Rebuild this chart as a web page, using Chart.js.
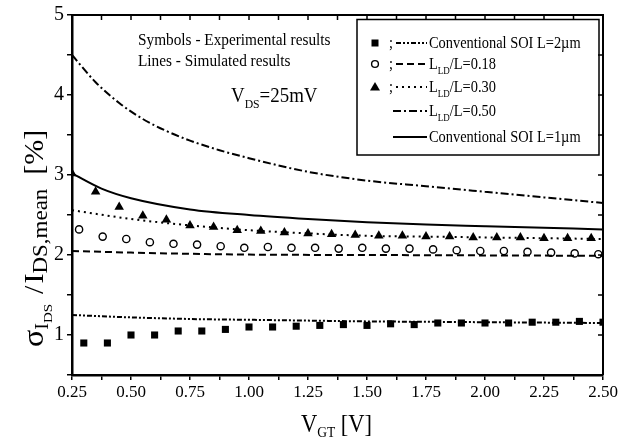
<!DOCTYPE html>
<html>
<head>
<meta charset="utf-8">
<script src="https://cdn.jsdelivr.net/npm/chart.js@4.4.0/dist/chart.umd.min.js"></script>
<style>
html, body { margin: 0; padding: 0; background: #fff; }
#wrap { width: 632px; height: 438px; }
</style>
</head>
<body>
<div id="wrap"><canvas id="chart" width="632" height="438"></canvas></div>
<script>
// experimental points (symbols)
var vgtSquares = [0.3,0.4,0.5,0.6,0.7,0.8,0.9,1.0,1.1,1.2,1.3,1.4,1.5,1.6,1.7,1.8,1.9,2.0,2.1,2.2,2.3,2.4,2.5];
var sigmaSquares = [0.90,0.90,1.00,1.00,1.05,1.05,1.07,1.10,1.10,1.11,1.12,1.13,1.12,1.14,1.13,1.15,1.15,1.15,1.15,1.16,1.16,1.17,1.16];
var vgtCircles = [0.28,0.38,0.48,0.58,0.68,0.78,0.88,0.98,1.08,1.18,1.28,1.38,1.48,1.58,1.68,1.78,1.88,1.98,2.08,2.18,2.28,2.38,2.48];
var sigmaCircles = [2.32,2.23,2.20,2.16,2.14,2.13,2.11,2.09,2.10,2.09,2.09,2.08,2.09,2.08,2.08,2.07,2.06,2.05,2.05,2.04,2.03,2.02,2.01];
var vgtTriangles = [0.25,0.35,0.45,0.55,0.65,0.75,0.85,0.95,1.05,1.15,1.25,1.35,1.45,1.55,1.65,1.75,1.85,1.95,2.05,2.15,2.25,2.35,2.45];
var sigmaTriangles = [3.02,2.79,2.60,2.49,2.44,2.37,2.35,2.31,2.30,2.28,2.27,2.26,2.25,2.24,2.24,2.23,2.23,2.22,2.22,2.22,2.21,2.21,2.21];

// simulated curves (lines)
var vgtConv2 = [0.25,0.5,0.75,1.0,1.25,1.5,1.75,2.0,2.25,2.5];
var sigmaConv2 = [1.25,1.22,1.20,1.19,1.18,1.17,1.165,1.16,1.155,1.15];
var vgtLd018 = [0.25,0.5,0.75,1.0,1.5,2.0,2.5];
var sigmaLd018 = [2.05,2.03,2.015,2.005,2.0,1.995,1.99];
var vgtLd030 = [0.25,0.5,0.75,1.0,1.25,1.5,1.75,2.0,2.25,2.5];
var sigmaLd030 = [2.56,2.45,2.37,2.31,2.27,2.24,2.23,2.22,2.21,2.20];
var vgtLd050 = [0.25,0.35,0.45,0.55,0.65,0.75,0.875,1.0,1.25,1.5,1.75,2.0,2.25,2.5];
var sigmaLd050 = [4.50,4.16,3.90,3.70,3.55,3.43,3.31,3.21,3.04,2.93,2.86,2.79,2.72,2.65];
var vgtConv1 = [0.25,0.375,0.5,0.75,1.0,1.25,1.5,1.75,2.0,2.25,2.5];
var sigmaConv1 = [3.02,2.83,2.71,2.57,2.50,2.45,2.41,2.38,2.36,2.34,2.32];

// ticks
var xTicks = [0.25,0.375,0.5,0.625,0.75,0.875,1.0,1.125,1.25,1.375,1.5,1.625,1.75,1.875,2.0,2.125,2.25,2.375,2.5];
var xTickLabels = ['0.25','0.50','0.75','1.00','1.25','1.50','1.75','2.00','2.25','2.50'];
var yTicks = [0.5,1,1.5,2,2.5,3,3.5,4,4.5,5];
var yTickLabels = ['1','2','3','4','5'];

var SERIF = '"Liberation Serif", "DejaVu Serif", serif';
var SQUEEZE = 0.9; // the figure text is a bit narrow

function pts(xs, ys) {
    return xs.map(function (x, i) { return { x: x, y: ys[i] }; });
}

function simLine(xs, ys, dash) {
    return {
        data: pts(xs, ys), showLine: true, pointRadius: 0, borderColor: '#000',
        borderWidth: 2, borderDash: dash, cubicInterpolationMode: 'monotone', fill: false
    };
}

// draws text pieces one after another: [text, size, baseline shift, gap after]
function drawRich(ctx, parts, x, y, sx) {
    ctx.save();
    ctx.translate(x, y);
    ctx.scale(sx || SQUEEZE, 1);
    var cx = 0;
    parts.forEach(function (p) {
        ctx.font = p[1] + 'px ' + SERIF;
        ctx.fillText(p[0], cx, p[2] || 0);
        cx += ctx.measureText(p[0]).width + (p[3] || 0);
    });
    ctx.restore();
}

var framePlugin = {
    id: 'frame',
    afterDraw: function (chart) {
        var ctx = chart.ctx, a = chart.chartArea;
        var xs = chart.scales.x, ys = chart.scales.y;
        ctx.save();
        ctx.strokeStyle = '#000';
        ctx.fillStyle = '#000';
        ctx.lineWidth = 2;
        ctx.beginPath();
        ctx.moveTo(a.left, a.top); ctx.lineTo(a.right, a.top); ctx.lineTo(a.right, a.bottom);
        ctx.stroke();
        // inward ticks on top and right
        ctx.lineWidth = 1.5;
        ctx.beginPath();
        xTicks.forEach(function (v) {
            var px = xs.getPixelForValue(v);
            ctx.moveTo(px, a.top); ctx.lineTo(px, a.top + 5);
        });
        yTicks.forEach(function (v) {
            var py = ys.getPixelForValue(v);
            ctx.moveTo(a.right, py); ctx.lineTo(a.right - 5, py);
        });
        ctx.stroke();

        ctx.textBaseline = 'alphabetic';
        ctx.textAlign = 'left';
        // notes
        drawRich(ctx, [['Symbols - Experimental results', 17]], 138, 45);
        drawRich(ctx, [['Lines - Simulated results', 17]], 138, 66);
        drawRich(ctx, [['V', 21], ['DS', 13, 6], ['=25mV', 21]], 231, 102);

        // legend box
        ctx.lineWidth = 1.5;
        ctx.strokeRect(357, 19.5, 242, 135.5);
        var rows = [43, 64, 87, 111, 137];
        // markers
        ctx.fillRect(371.5, rows[0] - 3.5, 7, 7);
        ctx.beginPath(); ctx.lineWidth = 1.4; ctx.arc(375, rows[1], 3.4, 0, Math.PI * 2); ctx.stroke();
        ctx.beginPath(); ctx.moveTo(375, rows[2] - 5); ctx.lineTo(380, rows[2] + 3.5); ctx.lineTo(370, rows[2] + 3.5); ctx.closePath(); ctx.fill();
        [0, 1, 2].forEach(function (i) { drawRich(ctx, [[';', 16]], 389, rows[i] + 5); });
        // line samples
        var dashes = [[5, 2, 2, 2, 2, 2], [7, 4], [2, 4], [8, 3, 2, 3], []];
        ctx.lineWidth = 2;
        dashes.forEach(function (d, i) {
            ctx.setLineDash(d);
            ctx.beginPath();
            ctx.moveTo(i < 3 ? 396 : 393, rows[i]);
            ctx.lineTo(427, rows[i]);
            ctx.stroke();
        });
        ctx.setLineDash([]);
        drawRich(ctx, [['Conventional SOI L=2\u00b5m', 16]], 429, rows[0] + 5);
        drawRich(ctx, [['L', 16], ['LD', 10, 5], ['/L=0.18', 16]], 429, rows[1] + 5);
        drawRich(ctx, [['L', 16], ['LD', 10, 5], ['/L=0.30', 16]], 429, rows[2] + 5);
        drawRich(ctx, [['L', 16], ['LD', 10, 5], ['/L=0.50', 16]], 429, rows[3] + 5);
        drawRich(ctx, [['Conventional SOI L=1\u00b5m', 16]], 429, rows[4] + 5);

        // x axis title
        drawRich(ctx, [['V', 25], ['GT', 15, 5], [' [V]', 25]], 301, 432);

        // y axis title (rotated, glyph height squeezed)
        ctx.translate(43, 347);
        ctx.rotate(-Math.PI / 2);
        ctx.scale(1, SQUEEZE);
        drawRich(ctx, [['\u03c3', 32], ['I', 20, 5], ['DS', 15, 10, 10], ['/', 30, 0, 2], ['I', 30], ['DS,mean', 23, 4, 14], ['[%]', 30]], 0, 0, 1);
        ctx.restore();
    }
};

new Chart(document.getElementById('chart'), {
    type: 'scatter',
    data: {
        datasets: [
            simLine(vgtConv2, sigmaConv2, [5, 2, 2, 2, 2, 2]),
            simLine(vgtLd018, sigmaLd018, [7, 4]),
            simLine(vgtLd030, sigmaLd030, [2, 4]),
            simLine(vgtLd050, sigmaLd050, [8, 3, 2, 3]),
            simLine(vgtConv1, sigmaConv1, []),
            {
                data: pts(vgtSquares, sigmaSquares), showLine: false, pointStyle: 'rect',
                pointRadius: 5, backgroundColor: '#000', borderColor: '#000', borderWidth: 0
            },
            {
                data: pts(vgtCircles, sigmaCircles), showLine: false, pointStyle: 'circle',
                pointRadius: 3.6, backgroundColor: '#fff', borderColor: '#000', borderWidth: 1.4
            },
            {
                data: pts(vgtTriangles, sigmaTriangles), showLine: false, pointStyle: 'triangle',
                pointRadius: 5.5, backgroundColor: '#000', borderColor: '#000', borderWidth: 0
            }
        ]
    },
    options: {
        responsive: false,
        animation: false,
        events: [],
        layout: { padding: { top: 15, right: 29, left: 0, bottom: 0 } },
        plugins: { legend: { display: false }, tooltip: { enabled: false } },
        scales: {
            x: {
                type: 'linear', min: 0.25, max: 2.5,
                afterBuildTicks: function (s) { s.ticks = xTicks.map(function (v) { return { value: v }; }); },
                afterFit: function (s) { s.height = 63; },
                ticks: {
                    autoSkip: false, maxRotation: 0, color: '#000', padding: 2,
                    font: { family: SERIF, size: 17 },
                    callback: function (v, i) { return i % 2 === 0 ? xTickLabels[i / 2] : ''; }
                },
                grid: { drawOnChartArea: false, tickLength: 5, color: '#000', lineWidth: 1.5 },
                border: { display: true, color: '#000', width: 2.5 }
            },
            y: {
                type: 'linear', min: 0.5, max: 5,
                afterBuildTicks: function (s) { s.ticks = yTicks.map(function (v) { return { value: v }; }); },
                afterFit: function (s) { s.width = 72; },
                ticks: {
                    autoSkip: false, color: '#000', padding: 3,
                    font: { family: SERIF, size: 20 },
                    callback: function (v, i) { return i % 2 === 1 ? yTickLabels[(i - 1) / 2] : ''; }
                },
                grid: { drawOnChartArea: false, tickLength: 5, color: '#000', lineWidth: 1.5 },
                border: { display: true, color: '#000', width: 2.5 }
            }
        }
    },
    plugins: [framePlugin]
});
</script>
</body>
</html>
